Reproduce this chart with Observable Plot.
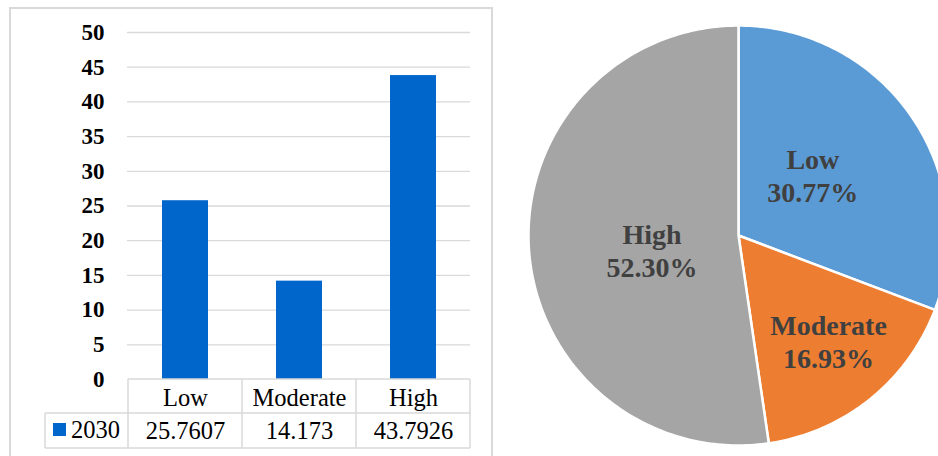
<!DOCTYPE html>
<html><head><meta charset="utf-8">
<script src="https://cdn.jsdelivr.net/npm/d3@7"></script>
<script src="https://cdn.jsdelivr.net/npm/@observablehq/plot@0.6"></script>
<style>
body{margin:0;background:#fff;}
#root{position:relative;width:938px;height:456px;overflow:hidden;font-family:"Liberation Serif","Times New Roman",serif;}
#box{position:absolute;left:9px;top:7px;width:484px;height:480px;border:2px solid #d9d9d9;box-sizing:border-box;}
#bar{position:absolute;left:0;top:0;}
#pie{position:absolute;left:480px;top:0;}
#root svg, #root svg text{font-family:"Liberation Serif","Times New Roman",serif !important;}
</style></head><body>
<div id="root"><div id="box"></div><div id="bar"></div><div id="pie"></div></div>
<script>
// ---- data ----
const categories = ["Low", "Moderate", "High"];
const values2030 = [25.7607, 14.173, 43.7926];
const valueLabels = ["25.7607", "14.173", "43.7926"];
const seriesName = "2030";
const yTicks = [0, 5, 10, 15, 20, 25, 30, 35, 40, 45, 50];

// ---- styles ----
const barColor = "#0066CC";
const pieColors = ["#5B9BD5", "#ED7D31", "#A5A5A5"];
const gridColor = "#d9d9d9";
const serif = '"Liberation Serif", "Times New Roman", serif';

// ---- bar chart ----
const barData = categories.map((c, i) => ({category: c, value: values2030[i], label: valueLabels[i]}));
const bar = Plot.plot({
  width: 480, height: 456,
  marginLeft: 127, marginRight: 10, marginTop: 32, marginBottom: 77,
  style: {fontFamily: serif, background: "transparent", overflow: "visible", color: "#000"},
  x: {domain: categories, paddingInner: 0.6, paddingOuter: 0.3},
  y: {domain: [0, 50]},
  marks: [
    Plot.ruleY(yTicks.filter(t => t > 0), {stroke: gridColor, strokeWidth: 1.3}),
    Plot.barY(barData, {x: "category", y: "value", fill: barColor}),
    Plot.axisY(yTicks, {anchor: "left", tickSize: 0, tickPadding: 23, fontSize: 23, fontWeight: "bold", fontFamily: serif, label: null}),
    Plot.axisX({tickSize: 0, tickPadding: 9, fontSize: 24.5, fontFamily: serif, label: null}),
    Plot.text(barData, {x: "category", text: "label", frameAnchor: "bottom", lineAnchor: "middle", dy: 52, fontSize: 24.5, fontFamily: serif})
  ]
});
document.getElementById("bar").appendChild(bar);

// data-table grid aligned to the plot's band scale
const xs = bar.scale("x");
const ys = bar.scale("y");
const half = (xs.step - xs.bandwidth) / 2;
const bounds = categories.map(c => xs.apply(c) - half);
bounds.push(xs.apply(categories[categories.length - 1]) + xs.bandwidth + half);
const y0 = ys.apply(0), row1 = y0 + 34, row2 = row1 + 35;
const xL = bounds[0], xR = bounds[bounds.length - 1], labelLeft = 45;
const g = d3.select(bar).append("g").attr("stroke", gridColor).attr("stroke-width", 1.5);
g.append("line").attr("x1", xL).attr("x2", xR).attr("y1", y0).attr("y2", y0);
g.append("line").attr("x1", labelLeft).attr("x2", xR).attr("y1", row1).attr("y2", row1);
g.append("line").attr("x1", labelLeft).attr("x2", xR).attr("y1", row2).attr("y2", row2);
bounds.forEach(b => g.append("line").attr("x1", b).attr("x2", b).attr("y1", y0).attr("y2", row2));
g.append("line").attr("x1", labelLeft).attr("x2", labelLeft).attr("y1", row1).attr("y2", row2);
const lg = d3.select(bar).append("g");
lg.append("rect").attr("x", 53).attr("y", row1 + 10).attr("width", 13).attr("height", 13).attr("fill", barColor);
lg.append("text").attr("x", 71).attr("y", row1 + 25).attr("text-anchor", "start")
  .attr("font-size", 24.5).style("font-family", serif).attr("fill", "#000").text(seriesName);

// ---- pie chart ----
const total = d3.sum(values2030);
const arcs = d3.pie().sort(null).value(d => d)(values2030);
const slicePts = [];
arcs.forEach((a, i) => {
  const cat = categories[i];
  slicePts.push({cat, x: 0, y: 0});
  const n = Math.max(2, Math.ceil((a.endAngle - a.startAngle) / (Math.PI / 180)));
  for (let k = 0; k <= n; k++) {
    const t = a.startAngle + (a.endAngle - a.startAngle) * k / n;
    slicePts.push({cat, x: Math.sin(t), y: Math.cos(t)});
  }
});
// label placement: radius fraction and angular nudge (degrees) per slice
const labelRadius = [0.45, 0.67, 0.42];
const labelNudge = [-3.5, -1, -7];
const pieLabels = arcs.map((a, i) => {
  const mid = (a.startAngle + a.endAngle) / 2 + labelNudge[i] * Math.PI / 180;
  return {
    x: labelRadius[i] * Math.sin(mid),
    y: labelRadius[i] * Math.cos(mid),
    text: `${categories[i]}\n${(values2030[i] / total * 100).toFixed(2)}%`
  };
});
const pie = Plot.plot({
  width: 458, height: 456, margin: 0,
  style: {fontFamily: serif, background: "transparent"},
  x: {domain: [-1, 1], range: [48, 468], axis: null},
  y: {domain: [-1, 1], range: [445, 25], axis: null},
  color: {domain: categories, range: pieColors},
  marks: [
    Plot.line(slicePts, {x: "x", y: "y", z: "cat", fill: "cat", stroke: "white", strokeWidth: 2.5, curve: "linear-closed"}),
    Plot.text(pieLabels, {x: "x", y: "y", text: "text", dy: -2.5, fontSize: 28, fontWeight: "bold", fontFamily: serif, fill: "#404040", lineHeight: 1.18})
  ]
});
document.getElementById("pie").appendChild(pie);
</script>
</body></html>
